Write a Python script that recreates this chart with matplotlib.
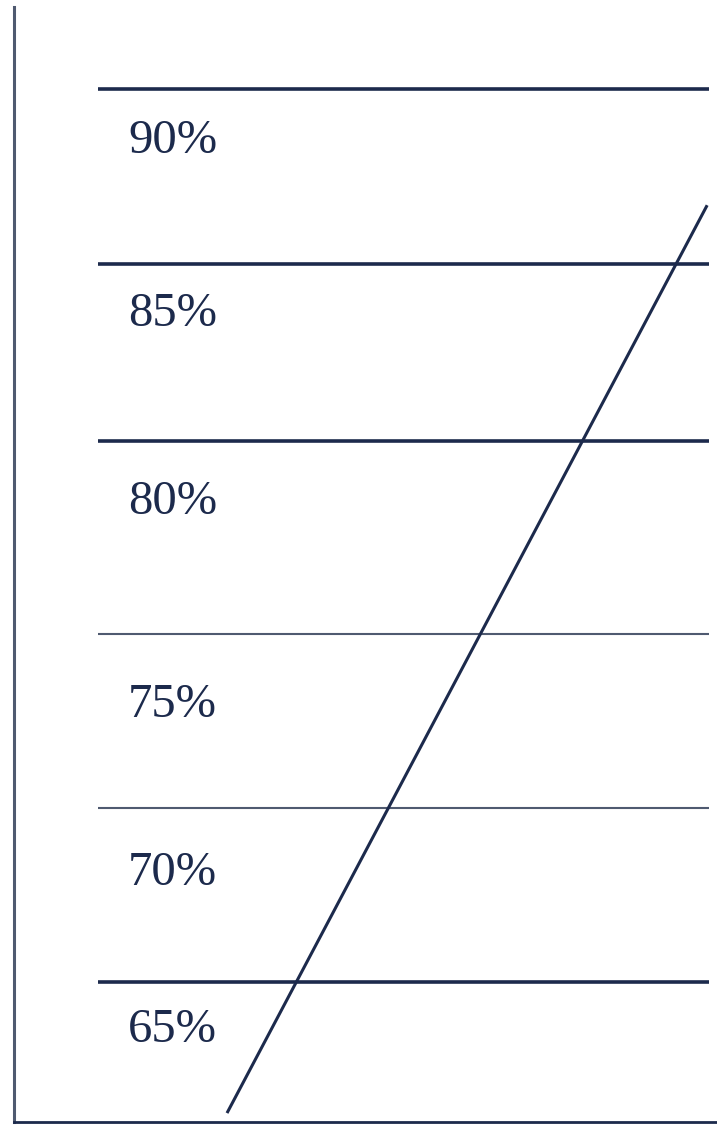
import matplotlib
matplotlib.use("Agg")
import matplotlib.pyplot as plt

# ========================
# DONNEES
# ========================

labels = ["90%", "85%", "80%", "75%", "70%", "65%"]
# hauteur des traits horizontaux
levels = [90.0, 85.10, 80.15, 74.74, 69.87, 65.0]
# hauteur des etiquettes sous chaque trait
label_y = [88.54, 83.70, 78.44, 72.75, 68.05, 63.66]
thick = [True, True, True, False, False, True]

# droite diagonale
diag_x = [30.3, 98.6]
diag_y = [61.33, 86.75]

NAVY = "#1c2a4c"
GREY = "#4f5a70"

# ========================
# FIGURE
# ========================

fig = plt.figure(figsize=(7.17, 11.25), dpi=100)
ax = fig.add_axes([14 / 717, 3 / 1125, 1 - 14 / 717, 1115 / 1125])
ax.set_xlim(0, 100)
ax.set_ylim(61.08, 92.30)

for y, lab, ly, t in zip(levels, labels, label_y, thick):
    ax.hlines(y, 12, 98.9, color=NAVY if t else GREY, lw=2.6 if t else 1.5)
    ax.text(16.2, ly, lab, fontsize=35, family="Liberation Serif",
            color=NAVY, va="center", ha="left")

ax.plot(diag_x, diag_y, color=NAVY, lw=2.2, solid_capstyle="butt")

for side in ["top", "right"]:
    ax.spines[side].set_visible(False)
ax.spines["left"].set_color(GREY)
ax.spines["left"].set_linewidth(2.2)
ax.spines["bottom"].set_color(NAVY)
ax.spines["bottom"].set_linewidth(2.0)
ax.set_xticks([])
ax.set_yticks([])

fig.savefig("out.png", dpi=100)
